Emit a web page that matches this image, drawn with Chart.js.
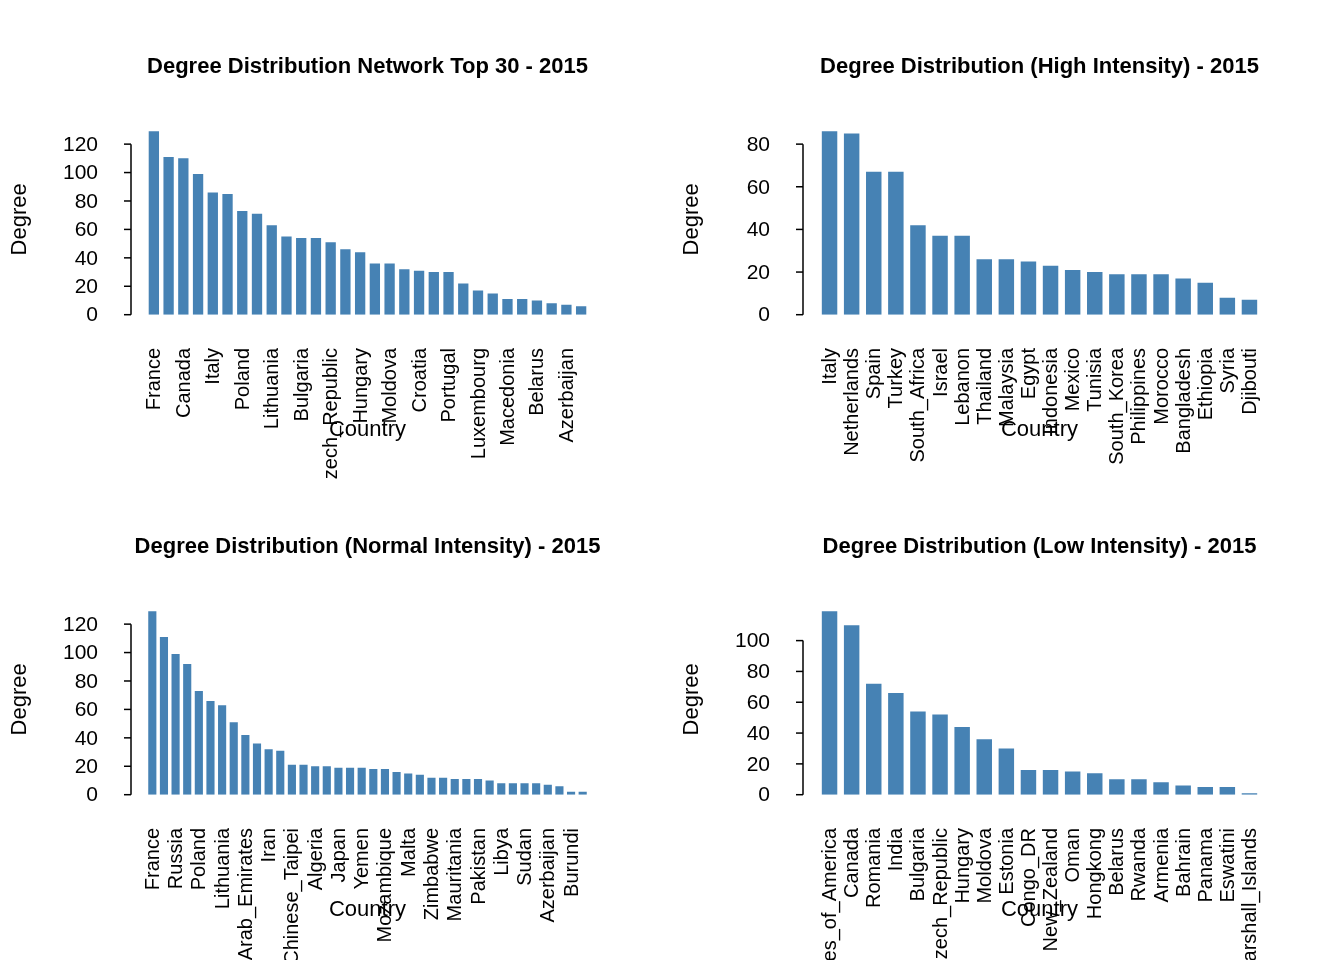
<!DOCTYPE html>
<html>
<head>
<meta charset="utf-8">
<script src="https://cdn.jsdelivr.net/npm/chart.js@4"></script>
<style>
  body { margin: 0; background: #fff; }
  #grid { display: grid; grid-template-columns: 672px 672px; width: 1344px; height: 960px; }
  canvas { display: block; }
</style>
</head>
<body>
<div id="grid">
  <canvas id="c1" width="672" height="480"></canvas>
  <canvas id="c2" width="672" height="480"></canvas>
  <canvas id="c3" width="672" height="480"></canvas>
  <canvas id="c4" width="672" height="480"></canvas>
</div>
<script>
// Top 30 network
const topCountries = ['France', 'Russia', 'Canada', 'Germany', 'Italy', 'Spain', 'Poland', 'Ukraine',
  'Lithuania', 'Latvia', 'Bulgaria', 'Romania', 'Czech_Republic', 'Slovakia', 'Hungary', 'Serbia',
  'Moldova', 'Estonia', 'Croatia', 'Slovenia', 'Portugal', 'Greece', 'Luxembourg', 'Austria',
  'Macedonia', 'Georgia', 'Belarus', 'Armenia', 'Azerbaijan', 'Albania'];
const topDegree = [129, 111, 110, 99, 86, 85, 73, 71, 63, 55, 54, 54, 51, 46, 44,
  36, 36, 32, 31, 30, 30, 22, 17, 15, 11, 11, 10, 8, 7, 6];

// High intensity
const highCountries = ['Italy', 'Netherlands', 'Spain', 'Turkey', 'South_Africa', 'Israel', 'Lebanon',
  'Thailand', 'Malaysia', 'Egypt', 'Indonesia', 'Mexico', 'Tunisia', 'South_Korea', 'Philippines',
  'Morocco', 'Bangladesh', 'Ethiopia', 'Syria', 'Djibouti'];
const highDegree = [86, 85, 67, 67, 42, 37, 37, 26, 26, 25, 23, 21, 20, 19, 19, 19, 17, 15, 8, 7];

// Normal intensity
const normalCountries = ['France', 'Canada', 'Russia', 'Germany', 'Poland', 'Italy', 'Lithuania', 'Spain',
  'United_Arab_Emirates', 'Turkey', 'Iran', 'Qatar', 'Chinese_Taipei', 'Kuwait', 'Algeria', 'Egypt',
  'Japan', 'Oman', 'Yemen', 'Jordan', 'Mozambique', 'Tunisia', 'Malta', 'Kenya', 'Zimbabwe', 'Zambia',
  'Mauritania', 'Senegal', 'Pakistan', 'Iraq', 'Libya', 'Chad', 'Sudan', 'Niger', 'Azerbaijan', 'Mali',
  'Burundi', 'Gabon'];
const normalDegree = [129, 111, 99, 92, 73, 66, 63, 51, 42, 36, 32, 31, 21, 21, 20, 20, 19, 19, 19,
  18, 18, 16, 15, 14, 12, 12, 11, 11, 11, 10, 8, 8, 8, 8, 7, 6, 2, 2];

// Low intensity
const lowCountries = ['United_States_of_America', 'Canada', 'Romania', 'India', 'Bulgaria', 'Czech_Republic',
  'Hungary', 'Moldova', 'Estonia', 'Congo_DR', 'New_Zealand', 'Oman', 'Hongkong', 'Belarus', 'Rwanda',
  'Armenia', 'Bahrain', 'Panama', 'Eswatini', 'Marshall_Islands'];
const lowDegree = [119, 110, 72, 66, 54, 52, 44, 36, 30, 16, 16, 15, 14, 10, 10, 8, 6, 5, 5, 1];

const FONT = '"Liberation Sans", Arial, sans-serif';

const rAxes = {
  id: 'rAxes',
  afterDraw(chart, args, opts) {
    const { ctx, chartArea } = chart;
    const y = chart.scales.y, x = chart.scales.x;
    ctx.save();
    ctx.fillStyle = '#000';
    ctx.strokeStyle = '#000';
    ctx.lineWidth = 1.5;
    // y axis
    const axisX = 131;
    const maxVal = Math.max(...chart.data.datasets[0].data);
    let top = 0;
    for (let v = 0; v <= maxVal; v += opts.step) top = v;
    ctx.beginPath();
    ctx.moveTo(axisX, y.getPixelForValue(0));
    ctx.lineTo(axisX, y.getPixelForValue(top));
    ctx.stroke();
    ctx.font = '21px ' + FONT;
    ctx.textAlign = 'right';
    ctx.textBaseline = 'middle';
    for (let v = 0; v <= top; v += opts.step) {
      const py = y.getPixelForValue(v);
      ctx.beginPath();
      ctx.moveTo(axisX, py);
      ctx.lineTo(axisX - 7, py);
      ctx.stroke();
      ctx.fillText(String(v), 98, py + 1);
    }
    // x labels
    ctx.font = '20px ' + FONT;
    chart.data.labels.forEach((lab, i) => {
      if (i % opts.every !== 0) return;
      const px = x.getPixelForValue(i);
      ctx.save();
      ctx.translate(px + 1, 348);
      ctx.rotate(-Math.PI / 2);
      ctx.textAlign = 'right';
      ctx.textBaseline = 'middle';
      ctx.fillText(lab, 0, 0);
      ctx.restore();
    });
    // titles
    const cx = (chartArea.left + chartArea.right) / 2;
    ctx.textAlign = 'center';
    ctx.textBaseline = 'middle';
    ctx.font = 'bold 22px ' + FONT;
    ctx.fillText(opts.title, cx, 67);
    ctx.font = '22px ' + FONT;
    ctx.fillText('Country', cx, 430);
    ctx.save();
    ctx.translate(20, (chartArea.top + chartArea.bottom) / 2);
    ctx.rotate(-Math.PI / 2);
    ctx.fillText('Degree', 0, 0);
    ctx.restore();
    ctx.restore();
  }
};

function makeChart(id, labels, values, title, step, every) {
  new Chart(document.getElementById(id), {
    type: 'bar',
    data: {
      labels: labels,
      datasets: [{
        data: values,
        backgroundColor: '#4682B4',
        borderWidth: 0,
        barPercentage: 0.7,
        categoryPercentage: 1.0
      }]
    },
    options: {
      responsive: false,
      animation: false,
      devicePixelRatio: 1,
      layout: { padding: { left: 146.5, right: 83.5, top: 124, bottom: 165.3 } },
      plugins: {
        legend: { display: false },
        tooltip: { enabled: false },
        rAxes: { title: title, step: step, every: every }
      },
      scales: {
        x: { display: false },
        y: { display: false, min: 0, max: Math.max(...values) * 1.04 }
      }
    },
    plugins: [rAxes]
  });
}

makeChart('c1', topCountries, topDegree, 'Degree Distribution Network Top 30 - 2015', 20, 2);
makeChart('c2', highCountries, highDegree, 'Degree Distribution (High Intensity) - 2015', 20, 1);
makeChart('c3', normalCountries, normalDegree, 'Degree Distribution (Normal Intensity) - 2015', 20, 2);
makeChart('c4', lowCountries, lowDegree, 'Degree Distribution (Low Intensity) - 2015', 20, 1);
</script>
</body>
</html>
